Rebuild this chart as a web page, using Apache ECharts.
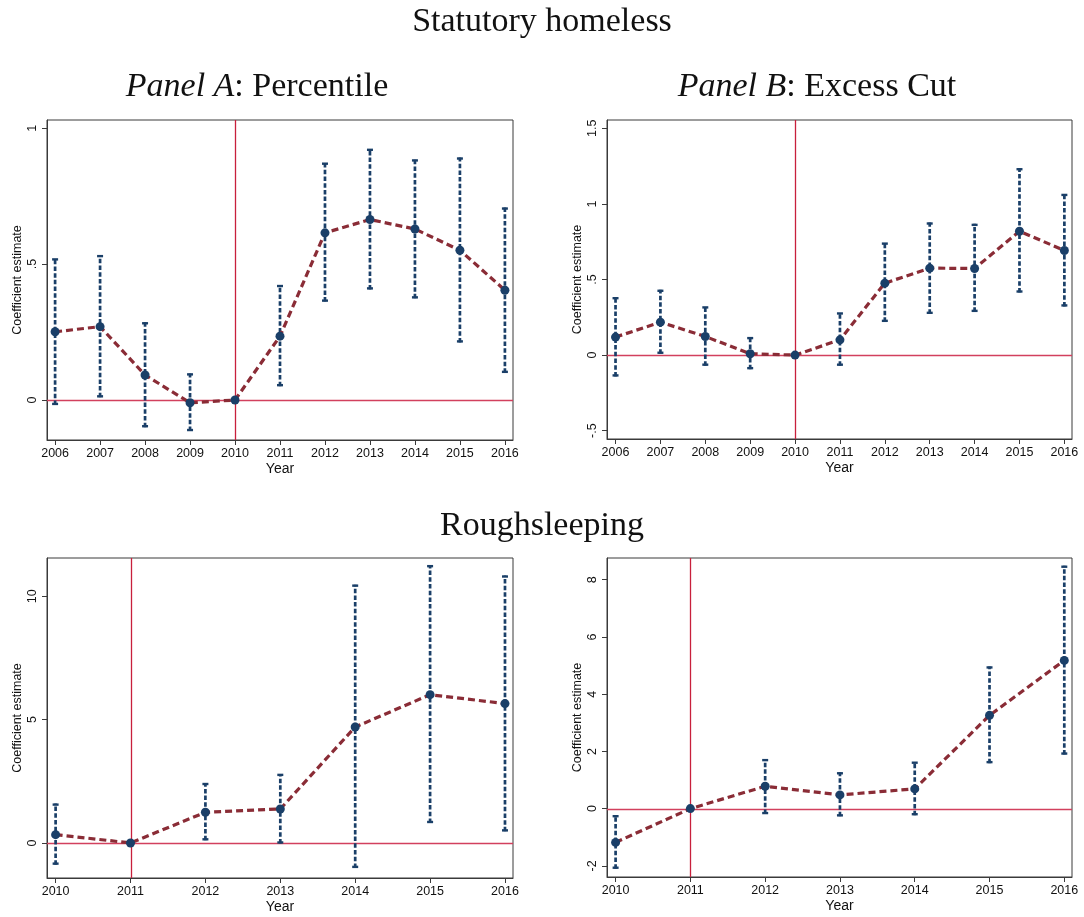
<!DOCTYPE html>
<html>
<head>
<meta charset="utf-8">
<script src="https://cdn.jsdelivr.net/npm/echarts@6/dist/echarts.min.js"></script>
<style>html,body{margin:0;padding:0;background:#fff}#c{width:1084px;height:917px}</style>
</head>
<body>
<div id="c"></div>
<script>
// ---- data ----
const yearsTop = [2006, 2007, 2008, 2009, 2010, 2011, 2012, 2013, 2014, 2015, 2016];
const yearsBottom = [2010, 2011, 2012, 2013, 2014, 2015, 2016];

const pctEst  = [0.251, 0.270, 0.092, -0.010, 0, 0.235, 0.615, 0.664, 0.629, 0.551, 0.404];
const pctLow  = [-0.018, 0.010, -0.100, -0.114, null, 0.051, 0.362, 0.407, 0.374, 0.212, 0.100];
const pctHigh = [0.521, 0.533, 0.286, 0.098, null, 0.423, 0.873, 0.924, 0.885, 0.892, 0.708];

const excEst  = [0.119, 0.218, 0.123, 0.009, 0, 0.101, 0.476, 0.575, 0.573, 0.819, 0.692];
const excLow  = [-0.141, 0.009, -0.070, -0.093, null, -0.070, 0.220, 0.273, 0.286, 0.414, 0.322];
const excHigh = [0.383, 0.432, 0.322, 0.119, null, 0.282, 0.744, 0.877, 0.868, 1.236, 1.066];

const rsPctEst  = [0.338, 0, 1.243, 1.378, 4.70, 6.01, 5.65];
const rsPctLow  = [-0.878, null, 0.108, -0.020, -1.01, 0.81, 0.47];
const rsPctHigh = [1.595, null, 2.43, 2.80, 10.47, 11.26, 10.84];

const rsExcEst  = [-1.18, 0, 0.78, 0.48, 0.69, 3.26, 5.18];
const rsExcLow  = [-2.10, null, -0.19, -0.27, -0.23, 1.59, 1.89];
const rsExcHigh = [-0.23, null, 1.73, 1.27, 1.64, 4.97, 8.49];

const yTicksA = [0, 0.5, 1];
const yTicksB = [-0.5, 0, 0.5, 1, 1.5];
const yTicksC = [0, 5, 10];
const yTicksD = [-2, 0, 2, 4, 6, 8];

const refYearTop = 2010;
const refYearBottom = 2011;
const refZero = 0;

// ---- styles ----
const NAVY = '#1a3f68';
const CRAN = '#8a2c36';
const RED = '#c8203c';
const HRED = '#d2405e';
const AXIS = '#3a3a3a';
const SANS = 'Liberation Sans, Arial, sans-serif';
const SERIF = 'Liberation Serif, Times New Roman, serif';

const panels = [
  {grid:{left:47, top:120, width:466, height:320}, x:[2005.82, 2016.18], y:[-0.147, 1.03], years:yearsTop, est:pctEst, low:pctLow, high:pctHigh, yt:yTicksA, ref:refYearTop},
  {grid:{left:607, top:120, width:465, height:319}, x:[2005.81, 2016.17], y:[-0.555, 1.555], years:yearsTop, est:excEst, low:excLow, high:excHigh, yt:yTicksB, ref:refYearTop},
  {grid:{left:47, top:558, width:466, height:320}, x:[2009.885, 2016.107], y:[-1.42, 11.55], years:yearsBottom, est:rsPctEst, low:rsPctLow, high:rsPctHigh, yt:yTicksC, ref:refYearBottom},
  {grid:{left:607, top:558, width:465, height:319}, x:[2009.885, 2016.103], y:[-2.39, 8.76], years:yearsBottom, est:rsExcEst, low:rsExcLow, high:rsExcHigh, yt:yTicksD, ref:refYearBottom}
];

function fmt(v){ return String(v).replace(/^(-?)0\./, '$1.'); }

const grids = [], xAxes = [], yAxes = [], series = [];
panels.forEach((p, i) => {
  grids.push(Object.assign({show:true, borderColor:AXIS, borderWidth:1, backgroundColor:'#fff'}, p.grid));
  xAxes.push({
    type:'value', gridIndex:i, min:p.x[0], max:p.x[1],
    name:'Year', nameLocation:'middle', nameGap:22,
    nameTextStyle:{fontFamily:SANS, fontSize:14, color:'#111'},
    axisLine:{show:true, onZero:false, lineStyle:{color:AXIS, width:1}},
    axisTick:{show:true, length:5, customValues:p.years, lineStyle:{color:AXIS}},
    axisLabel:{customValues:p.years, margin:7, fontFamily:SANS, fontSize:12.5, color:'#111', formatter:v=>String(v)},
    splitLine:{show:false}
  });
  yAxes.push({
    type:'value', gridIndex:i, min:p.y[0], max:p.y[1],
    name:'Coefficient estimate', nameLocation:'middle', nameGap:23, nameRotate:90,
    nameTextStyle:{fontFamily:SANS, fontSize:12.5, color:'#111'},
    axisLine:{show:true, onZero:false, lineStyle:{color:AXIS, width:1}},
    axisTick:{show:true, length:5, customValues:p.yt, lineStyle:{color:AXIS}},
    axisLabel:{customValues:p.yt, rotate:90, margin:8, fontFamily:SANS, fontSize:12.5, color:'#111', formatter:fmt},
    splitLine:{show:false}
  });
  // reference lines (x = reference year, y = 0)
  series.push({
    type:'custom', xAxisIndex:i, yAxisIndex:i, data:[[p.ref, refZero]], z:1, silent:true,
    renderItem:function(params, api){
      const cs = params.coordSys;
      const pt = api.coord([api.value(0), api.value(1)]);
      const vx = Math.round(pt[0]) + 0.5, hy = Math.round(pt[1]) + 0.5;
      return {type:'group', children:[
        {type:'line', shape:{x1:cs.x, y1:hy, x2:cs.x+cs.width, y2:hy}, style:{stroke:HRED, lineWidth:1.3}},
        {type:'line', shape:{x1:vx, y1:cs.y, x2:vx, y2:cs.y+cs.height}, style:{stroke:RED, lineWidth:1.3}}
      ]};
    }
  });
  // error bars
  const ebData = [];
  p.years.forEach((y,k)=>{ if (p.low[k] !== null) ebData.push([y, p.low[k], p.high[k]]); });
  series.push({
    type:'custom', xAxisIndex:i, yAxisIndex:i, data:ebData, z:2, silent:true,
    encode:{x:0, y:[1,2]},
    renderItem:function(params, api){
      const x = api.value(0);
      const lo = api.coord([x, api.value(1)]);
      const hi = api.coord([x, api.value(2)]);
      const st = {stroke:NAVY, lineWidth:2.7, lineDash:[4.5,2.2]};
      const cs = {stroke:NAVY, lineWidth:2.4};
      return {type:'group', children:[
        {type:'line', shape:{x1:lo[0], y1:lo[1], x2:hi[0], y2:hi[1]}, style:st},
        {type:'line', shape:{x1:hi[0]-3, y1:hi[1]+1, x2:hi[0]+3, y2:hi[1]+1}, style:cs},
        {type:'line', shape:{x1:lo[0]-3, y1:lo[1]-1, x2:lo[0]+3, y2:lo[1]-1}, style:cs}
      ]};
    }
  });
  // estimates
  series.push({
    type:'line', xAxisIndex:i, yAxisIndex:i, data:p.years.map((y,k)=>[y,p.est[k]]),
    symbol:'circle', symbolSize:9, z:3, silent:true,
    itemStyle:{color:NAVY, borderWidth:0},
    lineStyle:{color:CRAN, width:3.2, type:[7,4]}
  });
});

const chart = echarts.init(document.getElementById('c'), null, {renderer:'canvas'});
chart.setOption({
  animation:false,
  backgroundColor:'#fff',
  grid:grids, xAxis:xAxes, yAxis:yAxes, series:series,
  graphic:[
    {type:'text', left:'center', top:5, style:{text:'Statutory homeless', font:'34px '+SERIF, fill:'#111'}},
    {type:'text', left:'center', top:509, style:{text:'Roughsleeping', font:'34px '+SERIF, fill:'#111'}},
    {type:'text', x:257, y:87, style:{text:'{i|Panel A}: Percentile', textAlign:'center', textVerticalAlign:'middle', font:'34px '+SERIF, fill:'#111', rich:{i:{fontStyle:'italic', fontFamily:'Liberation Serif', fontSize:34}}}},
    {type:'text', x:817, y:87, style:{text:'{i|Panel B}: Excess Cut', textAlign:'center', textVerticalAlign:'middle', font:'34px '+SERIF, fill:'#111', rich:{i:{fontStyle:'italic', fontFamily:'Liberation Serif', fontSize:34}}}}
  ]
});
</script>
</body>
</html>
